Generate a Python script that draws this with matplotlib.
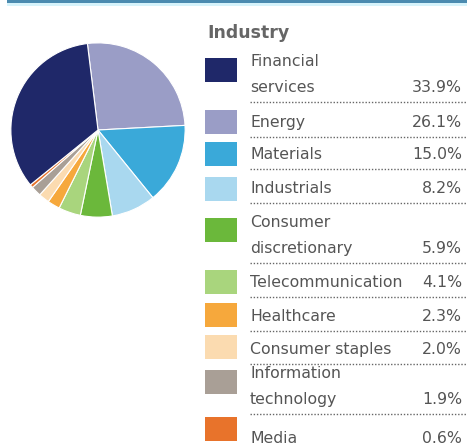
import matplotlib.pyplot as plt
from matplotlib.patches import Rectangle

# legend order
labels = ["Financial\nservices", "Energy", "Materials", "Industrials",
          "Consumer\ndiscretionary", "Telecommunication", "Healthcare",
          "Consumer staples", "Information\ntechnology", "Media"]
values = [33.9, 26.1, 15.0, 8.2, 5.9, 4.1, 2.3, 2.0, 1.9, 0.6]
colors = ["#1f2869", "#9a9dc6", "#3aa9d9", "#a9d8ef", "#6bb83b",
          "#a9d57d", "#f6a83c", "#fbdbb0", "#a99f96", "#e8732b"]

# row layout (pixel rows in figure): square top, dotted y
sq_top = [58, 110, 142, 177, 218, 270, 303, 335, 370, 417]
dot_y = [102, 137, 169, 203, 263, 297, 331, 364, 414, None]

W, H = 476, 447
fig = plt.figure(figsize=(W / 100, H / 100), dpi=100)

# pie: clockwise from top, Energy first, Financial services last
cx, cy, r = 98, 130, 88
pax = fig.add_axes([(cx - r) / W, (H - cy - r) / H, 2 * r / W, 2 * r / H])
order = list(range(1, len(values))) + [0]
pax.pie([values[i] for i in order], colors=[colors[i] for i in order],
        startangle=97, counterclock=False,
        wedgeprops=dict(edgecolor="white", linewidth=0.8))
pax.set_xlim(-1.01, 1.01)
pax.set_ylim(-1.01, 1.01)
pax.set_aspect("equal")

ax = fig.add_axes([0, 0, 1, 1], zorder=-1)
ax.set_xlim(0, W)
ax.set_ylim(H, 0)
ax.axis("off")

# top bar
ax.add_patch(Rectangle((7, -1), 460, 4, color="#4b8bb0", lw=0))
ax.add_patch(Rectangle((7, 3), 460, 3, color="#d6f3fb", lw=0))

tc = "#555555"
ax.text(207, 33, "Industry", fontsize=12.5, fontweight="bold", color="#666666",
        va="center", ha="left")

for lab, val, col, top, dy in zip(labels, values, colors, sq_top, dot_y):
    ax.add_patch(Rectangle((205, top), 32, 24, color=col, lw=0))
    lines = lab.split("\n")
    if dy is not None:
        base = dy - 10
    else:
        base = top + 26
    for k, ln in enumerate(reversed(lines)):
        ax.text(250, base - 26 * k, ln, fontsize=11.3, color=tc,
                va="baseline", ha="left")
    ax.text(462, base, f"{val:.1f}%", fontsize=11.3, color=tc,
            va="baseline", ha="right")
    if dy is not None:
        ax.plot([250, 466], [dy, dy], color="#666666", lw=1.0,
                linestyle=(0, (1, 1.3)))

fig.savefig("out.png", dpi=100)
